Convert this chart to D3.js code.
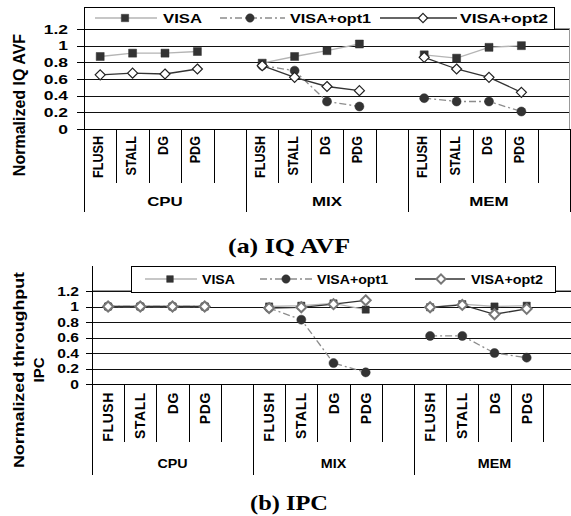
<!DOCTYPE html>
<html>
<head>
<meta charset="utf-8">
<script src="https://cdn.jsdelivr.net/npm/d3@7"></script>
<style>
  body { margin: 0; background: #fff; }
  svg { display: block; }
  text { font-family: 'Liberation Sans', Arial, sans-serif; font-weight: bold; fill: #000; }
  .title { font-family: 'Liberation Serif', 'Times New Roman', serif; }
</style>
</head>
<body>
<div id="chart"></div>
<script>
// categories
const groups = ['CPU', 'MIX', 'MEM']
const categories = ['FLUSH', 'STALL', 'DG', 'PDG']
const yTicks = [0, 0.2, 0.4, 0.6, 0.8, 1, 1.2]
const yTickLabels = ['0', '0.2', '0.4', '0.6', '0.8', '1', '1.2']
const seriesNames = ['VISA', 'VISA+opt1', 'VISA+opt2']

// (a) IQ AVF, order: CPU x4, MIX x4, MEM x4
const avfVisa = [0.87, 0.91, 0.91, 0.93, 0.79, 0.87, 0.94, 1.02, 0.89, 0.85, 0.98, 1.00]
const avfOpt1 = [null, null, null, null, 0.76, 0.70, 0.33, 0.27, 0.37, 0.33, 0.33, 0.21]
const avfOpt2 = [0.65, 0.67, 0.66, 0.72, 0.76, 0.62, 0.51, 0.46, 0.86, 0.72, 0.62, 0.44]

// (b) IPC
const ipcVisa = [1, 1, 1, 1, 1.00, 1.01, 1.04, 0.96, 0.99, 1.03, 1.00, 1.01]
const ipcOpt1 = [1, 1, 1, 1, 0.98, 0.83, 0.27, 0.15, 0.62, 0.62, 0.40, 0.34]
const ipcOpt2 = [1, 1, 1, 1, 0.98, 0.99, 1.03, 1.08, 0.99, 1.02, 0.90, 0.97]

const width = 571
const height = 516

const svg = d3.select('#chart')
  .append('svg')
  .attr('width', width)
  .attr('height', height)

const diamondType = d3.symbolDiamond2 || d3.symbolDiamond

// series styles
function styles (big) {
  return [
    { line: '#b4b4b4', lw: 1.3, dash: null, sym: d3.symbolSquare, size: big ? 64 : 52, fill: '#333', stroke: '#333', sw: 0.5 },
    { line: '#8c8c8c', lw: 1.3, dash: '7,3,2,3', sym: d3.symbolCircle, size: 64, fill: '#333', stroke: '#333', sw: 0.5 },
    { line: '#333', lw: 1.3, dash: null, sym: diamondType, size: 64, fill: '#fff', stroke: big ? '#222' : '#777', sw: big ? 1.2 : 2 }
  ]
}

// text stretched horizontally by sx
function stretched (g, str, x, y, sx, anchor, size) {
  return g.append('text')
    .attr('transform', `translate(${x},${y}) scale(${sx},1)`)
    .attr('text-anchor', anchor)
    .attr('font-size', size)
    .text(str)
}

function drawChart (cfg, seriesData) {
  const g = svg.append('g')
  const x = d3.scaleLinear().domain([0, 15]).range([cfg.x0, cfg.x1])
  const y = d3.scaleLinear().domain([0, 1.2]).range([cfg.yBottom, cfg.yTop])
  const st = styles(cfg.big)

  // gridlines
  g.selectAll('.grid')
    .data(yTicks.slice(1))
    .enter()
    .append('line')
    .attr('x1', cfg.x0)
    .attr('x2', cfg.x1)
    .attr('y1', d => Math.round(y(d)) + 0.5)
    .attr('y2', d => Math.round(y(d)) + 0.5)
    .attr('stroke', '#111')
    .attr('stroke-width', 1)

  // plot border right/top
  g.append('line')
    .attr('x1', cfg.x1 - 0.5).attr('x2', cfg.x1 - 0.5)
    .attr('y1', Math.round(y(1.2))).attr('y2', Math.round(y(0)))
    .attr('stroke', '#999')
  g.append('line')
    .attr('x1', cfg.x0).attr('x2', cfg.x1)
    .attr('y1', Math.round(y(1.2)) - 0.5).attr('y2', Math.round(y(1.2)) - 0.5)
    .attr('stroke', '#999')

  // y ticks + labels
  g.selectAll('.ytick')
    .data(yTicks)
    .enter()
    .append('line')
    .attr('x1', cfg.x0 - cfg.tickLen)
    .attr('x2', cfg.x0)
    .attr('y1', d => Math.round(y(d)) + 0.5)
    .attr('y2', d => Math.round(y(d)) + 0.5)
    .attr('stroke', '#000')
  yTicks.forEach((t, i) => {
    stretched(g, yTickLabels[i], cfg.tickLabelX, y(t) + cfg.tickFont * 0.36, cfg.tickSx, 'end', cfg.tickFont)
  })

  // x axis line
  g.append('line')
    .attr('x1', cfg.x0 - cfg.tickLen).attr('x2', cfg.x1)
    .attr('y1', Math.round(y(0)) + 0.5).attr('y2', Math.round(y(0)) + 0.5)
    .attr('stroke', '#000')

  // y axis line
  g.append('line')
    .attr('x1', cfg.x0 + 0.5).attr('x2', cfg.x0 + 0.5)
    .attr('y1', cfg.legend.y0).attr('y2', cfg.groupBottom)
    .attr('stroke', '#000')

  // category dividers
  g.selectAll('.div')
    .data(d3.range(1, 16))
    .enter()
    .append('line')
    .attr('x1', d => Math.round(x(d)) + 0.5)
    .attr('x2', d => Math.round(x(d)) + 0.5)
    .attr('y1', Math.round(y(0)))
    .attr('y2', d => d % 5 === 0 ? cfg.groupBottom : cfg.catBottom)
    .attr('stroke', '#000')

  // category labels
  groups.forEach((grp, gi) => {
    categories.forEach((cat, ci) => {
      const cx = x(gi * 5 + ci + 0.5)
      g.append('text')
        .attr('transform', `translate(${cx + cfg.catDx},${cfg.catTop}) rotate(-90) scale(${cfg.catSx},1)`)
        .attr('text-anchor', 'end')
        .attr('font-size', cfg.catFont)
        .attr('letter-spacing', cfg.catSpacing)
        .text(cat)
    })
    stretched(g, grp, x(gi * 5 + 2.5), cfg.groupY, cfg.groupSx, 'middle', 13)
  })

  // series lines + markers
  const line = d3.line()
    .defined(d => d.v !== null)
    .x(d => x(d.slot + 0.5))
    .y(d => y(d.v))

  seriesData.forEach((vals, si) => {
    const s = st[si]
    groups.forEach((grp, gi) => {
      const pts = categories.map((cat, ci) => ({ slot: gi * 5 + ci, v: vals[gi * 4 + ci] }))
      g.append('path')
        .datum(pts)
        .attr('d', line)
        .attr('fill', 'none')
        .attr('stroke', s.line)
        .attr('stroke-width', s.lw)
        .attr('stroke-dasharray', s.dash)
    })
  })
  seriesData.forEach((vals, si) => {
    const s = st[si]
    const pts = vals.map((v, i) => ({ slot: Math.floor(i / 4) * 5 + (i % 4), v: v }))
      .filter(d => d.v !== null)
    g.selectAll('.m' + si)
      .data(pts)
      .enter()
      .append('path')
      .attr('d', d3.symbol().type(s.sym).size(s.size))
      .attr('transform', d => `translate(${x(d.slot + 0.5)},${y(d.v)})`)
      .attr('fill', s.fill)
      .attr('stroke', s.stroke)
      .attr('stroke-width', s.sw)
  })

  // legend
  const L = cfg.legend
  g.append('rect')
    .attr('x', L.x0 + 0.5).attr('y', L.y0 + 0.5)
    .attr('width', L.x1 - L.x0).attr('height', L.y1 - L.y0)
    .attr('fill', '#fff')
    .attr('stroke', '#000')
  const ly = (L.y0 + L.y1) / 2
  L.items.forEach((it, i) => {
    const s = st[i]
    g.append('line')
      .attr('x1', it.l0).attr('x2', it.l1)
      .attr('y1', ly).attr('y2', ly)
      .attr('stroke', s.line)
      .attr('stroke-width', s.lw)
      .attr('stroke-dasharray', s.dash)
    g.append('path')
      .attr('d', d3.symbol().type(s.sym).size(s.size * 0.85))
      .attr('transform', `translate(${it.m},${ly})`)
      .attr('fill', s.fill)
      .attr('stroke', s.stroke)
      .attr('stroke-width', s.sw)
    g.append('text')
      .attr('x', it.t0)
      .attr('y', ly + 4.7)
      .attr('font-size', 13)
      .attr('textLength', it.tw)
      .attr('lengthAdjust', 'spacingAndGlyphs')
      .text(seriesNames[i])
  })

  // y title
  cfg.yTitle.forEach(t => {
    const tx = g.append('text')
      .attr('transform', `translate(${t.x},${cfg.yTitleY}) rotate(-90)`)
      .attr('text-anchor', 'middle')
      .attr('font-size', t.size)
      .text(t.text)
    if (t.len) tx.attr('textLength', t.len).attr('lengthAdjust', 'spacingAndGlyphs')
  })

  // caption
  g.append('text')
    .attr('class', 'title')
    .attr('x', 289)
    .attr('y', cfg.titleY)
    .attr('text-anchor', 'middle')
    .attr('font-size', 22)
    .attr('textLength', cfg.titleLen)
    .attr('lengthAdjust', 'spacingAndGlyphs')
    .text(cfg.title)
}

drawChart({
  big: true,
  x0: 84, x1: 570, yBottom: 129, yTop: 29,
  tickLen: 7, tickLabelX: 68, tickSx: 1.4, tickFont: 12.5,
  catTop: 136, catDx: 3, catSx: 0.9, catFont: 14, catSpacing: 0,
  catBottom: 183, groupBottom: 212, groupY: 206, groupSx: 1.3,
  legend: {
    x0: 84, x1: 554, y0: 7, y1: 29,
    items: [
      { l0: 95, l1: 157, m: 125, t0: 163, tw: 39 },
      { l0: 220, l1: 285, m: 250, t0: 290, tw: 81 },
      { l0: 380, l1: 457, m: 423, t0: 460, tw: 88 }
    ]
  },
  yTitle: [{ text: 'Normalized IQ AVF', x: 25, size: 16 }],
  yTitleY: 105,
  title: '(a) IQ AVF', titleY: 253, titleLen: 122
}, [avfVisa, avfOpt1, avfOpt2])

drawChart({
  big: false,
  x0: 92, x1: 575, yBottom: 384, yTop: 291,
  tickLen: 6, tickLabelX: 79, tickSx: 1.2, tickFont: 13,
  catTop: 392, catDx: 5, catSx: 1, catFont: 14, catSpacing: 0.6,
  catBottom: 442, groupBottom: 475, groupY: 468, groupSx: 1.1,
  legend: {
    x0: 131, x1: 555, y0: 266, y1: 292,
    items: [
      { l0: 145, l1: 197, m: 170, t0: 202, tw: 33 },
      { l0: 260, l1: 312, m: 286, t0: 317, tw: 71 },
      { l0: 415, l1: 465, m: 441, t0: 471, tw: 72 }
    ]
  },
  yTitle: [
    { text: 'Normalized throughput', x: 24, size: 15, len: 196 },
    { text: 'IPC', x: 44, size: 15 }
  ],
  yTitleY: 370,
  title: '(b) IPC', titleY: 510, titleLen: 78
}, [ipcVisa, ipcOpt1, ipcOpt2])
</script>
</body>
</html>
